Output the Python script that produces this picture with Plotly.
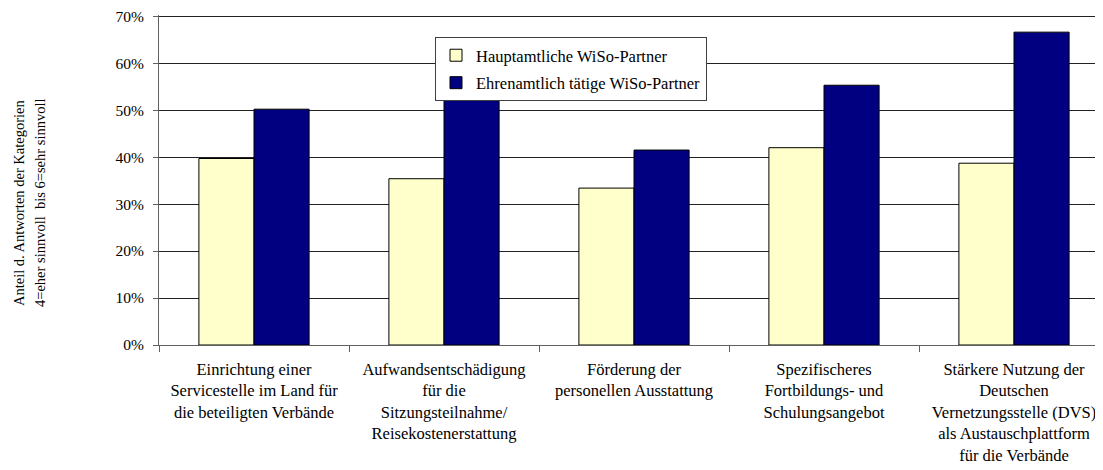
import plotly.graph_objects as go

# Kategorien (Zeilenumbrüche wie im Original)
kategorien = [
    "Einrichtung einer<br>Servicestelle im Land für<br>die beteiligten Verbände",
    "Aufwandsentschädigung<br>für die<br>Sitzungsteilnahme/<br>Reisekostenerstattung",
    "Förderung der<br>personellen Ausstattung",
    "Spezifischeres<br>Fortbildungs- und<br>Schulungsangebot",
    "Stärkere Nutzung der<br>Deutschen<br>Vernetzungsstelle (DVS)<br>als Austauschplattform<br>für die Verbände",
]
hauptamtlich = [0.397, 0.354, 0.334, 0.420, 0.387]
ehrenamtlich = [0.502, 0.570, 0.415, 0.553, 0.666]
y_ticks = [0.0, 0.1, 0.2, 0.3, 0.4, 0.5, 0.6, 0.7]

FONT = "Liberation Serif"

# the page body has an 8px margin, so the figure sits 8px right/down.
# y range goes a hair above 70% so plotly keeps the top gridline
fig = go.Figure()

fig.add_trace(go.Bar(
    x=kategorien, y=hauptamtlich,
    name="Hauptamtliche WiSo-Partner",
    legendgroup="a",
    marker=dict(color="#FFFFCC", line=dict(color="black", width=1)),
))
fig.add_trace(go.Bar(
    x=kategorien, y=ehrenamtlich,
    name="Ehrenamtlich tätige WiSo-Partner",
    legendgroup="b",
    marker=dict(color="#000080", line=dict(color="black", width=1)),
))

fig.update_layout(
    width=1103, height=470,
    margin=dict(l=151, r=8, t=7, b=133, autoexpand=False),
    paper_bgcolor="white", plot_bgcolor="white",
    font=dict(family=FONT, color="black", size=16),
    barmode="group", bargap=0.42, bargroupgap=0,
    showlegend=True,
    legend=dict(
        x=(435 - 159) / 944, y=(345 - 37) / 330, xanchor="left", yanchor="top",
        bgcolor="white", bordercolor="#404040", borderwidth=1,
        font=dict(family=FONT, size=16.5),
        traceorder="grouped", tracegroupgap=3,
        itemwidth=30,
    ),
)

fig.update_xaxes(
    range=[-0.5, -0.5 + 944 / 190],
    automargin=False,
    showline=True, linecolor="#606060", linewidth=1,
    ticks="outside", tickson="boundaries", ticklen=6, tickcolor="#606060",
    tickfont=dict(family=FONT, size=16.5),
    ticklabelstandoff=9,
    showgrid=False,
)
fig.update_yaxes(
    range=[0, 0.7025], tickmode="array", tickvals=y_ticks, tickformat=".0%",
    automargin=False, ticklabeloverflow="allow",
    showline=True, linecolor="#606060", linewidth=1,
    ticks="outside", ticklen=5, tickcolor="#606060",
    tickfont=dict(family=FONT, size=15.5),
    ticklabelstandoff=6,
    showgrid=True, gridcolor="#222222", gridwidth=1,
    zeroline=False,
)

# y-Achsentitel, zwei Zeilen
for xpos, txt in [(19, "Anteil d. Antworten der Kategorien"),
                  (40, "4=eher sinnvoll  bis 6=sehr sinnvoll")]:
    fig.add_annotation(
        text=txt, textangle=-90, showarrow=False,
        xref="paper", yref="paper",
        x=(xpos - 159) / 944, y=(345 - 203) / 330,
        xanchor="center", yanchor="middle",
        font=dict(family=FONT, size=14.5),
    )

fig.write_html("out.html")
